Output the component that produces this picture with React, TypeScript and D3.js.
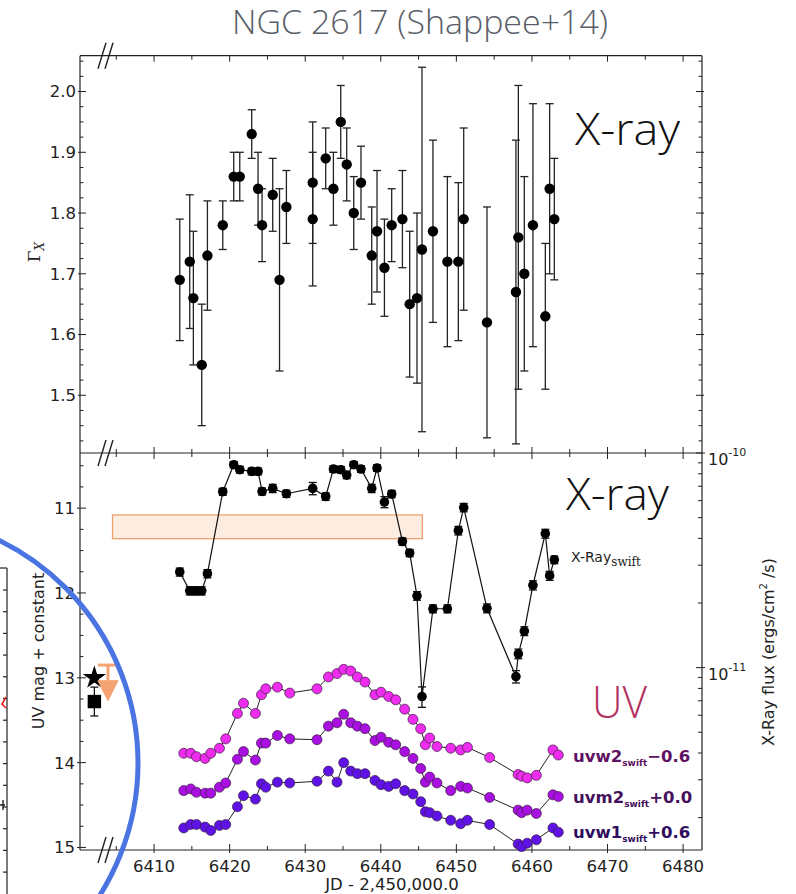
import React from "react";
import * as d3 from "d3";

// ---------- data ----------
// Top panel: X-ray photon index Gamma_X
const gammaJD = [6413.40, 6414.72, 6415.20, 6416.31, 6417.06, 6419.09, 6420.54, 6421.34, 6422.92, 6423.76, 6424.29, 6425.70, 6426.60, 6427.51, 6430.99, 6430.99, 6432.71, 6433.73, 6434.70, 6435.49, 6436.42, 6437.38, 6438.80, 6439.50, 6440.48, 6441.44, 6442.86, 6443.82, 6444.79, 6445.45, 6446.90, 6448.81, 6450.26, 6450.97, 6454.05, 6457.88, 6458.20, 6458.99, 6460.13, 6461.77, 6462.34, 6462.96];
const gamma = [1.69, 1.72, 1.66, 1.55, 1.73, 1.78, 1.86, 1.86, 1.93, 1.84, 1.78, 1.83, 1.69, 1.81, 1.85, 1.79, 1.89, 1.84, 1.95, 1.88, 1.80, 1.85, 1.73, 1.77, 1.71, 1.78, 1.79, 1.65, 1.66, 1.74, 1.77, 1.72, 1.72, 1.79, 1.62, 1.67, 1.76, 1.70, 1.78, 1.63, 1.84, 1.79];
const gammaErr = [0.10, 0.11, 0.11, 0.10, 0.09, 0.04, 0.04, 0.04, 0.04, 0.06, 0.06, 0.06, 0.15, 0.06, 0.10, 0.11, 0.05, 0.06, 0.06, 0.06, 0.06, 0.06, 0.08, 0.10, 0.08, 0.06, 0.08, 0.12, 0.14, 0.30, 0.15, 0.14, 0.13, 0.15, 0.19, 0.25, 0.25, 0.16, 0.20, 0.12, 0.14, 0.10];

// Bottom panel: Swift X-ray flux (units of 1e-11 ergs/cm^2/s)
const xrayJD = [6413.40, 6414.72, 6415.52, 6416.31, 6417.06, 6419.09, 6420.54, 6421.34, 6422.92, 6423.76, 6424.29, 6425.70, 6427.51, 6430.99, 6432.71, 6433.73, 6434.70, 6435.49, 6436.42, 6437.38, 6438.80, 6439.50, 6440.48, 6441.44, 6442.86, 6443.82, 6444.79, 6445.45, 6446.90, 6448.81, 6450.26, 6450.97, 6454.05, 6457.88, 6458.20, 6458.99, 6460.13, 6461.77, 6462.34, 6462.96];
const xrayFlux = [2.79, 2.28, 2.28, 2.28, 2.74, 6.60, 8.82, 8.36, 8.21, 8.21, 6.62, 6.84, 6.46, 6.84, 6.27, 8.42, 8.36, 7.89, 8.82, 8.42, 6.84, 8.51, 5.91, 6.44, 3.87, 3.42, 2.16, 0.733, 1.88, 1.88, 4.35, 5.57, 1.89, 0.908, 1.16, 1.48, 2.42, 4.21, 2.68, 3.18];
const xrayErr = [0.12, 0.10, 0.10, 0.10, 0.12, 0.25, 0.30, 0.30, 0.30, 0.30, 0.25, 0.30, 0.25, 0.45, 0.25, 0.30, 0.30, 0.30, 0.30, 0.30, 0.30, 0.30, 0.35, 0.25, 0.15, 0.13, 0.10, 0.08, 0.08, 0.08, 0.20, 0.25, 0.09, 0.06, 0.06, 0.07, 0.12, 0.20, 0.13, 0.13];

// UV light curves (mag + constant)
const uvJD = [6413.93, 6414.85, 6415.61, 6416.75, 6417.50, 6418.65, 6419.48, 6421.03, 6421.83, 6423.41, 6424.21, 6424.78, 6426.32, 6427.95, 6431.56, 6433.07, 6434.21, 6435.09, 6436.02, 6436.90, 6437.91, 6439.23, 6440.03, 6441.04, 6441.97, 6443.16, 6444.26, 6445.28, 6445.90, 6446.47, 6447.43, 6449.25, 6450.57, 6451.46, 6454.40, 6458.17, 6458.64, 6459.37, 6460.58, 6462.78, 6463.49];
const uvw2 = [13.89, 13.89, 13.93, 13.95, 13.89, 13.83, 13.72, 13.42, 13.30, 13.42, 13.20, 13.13, 13.11, 13.18, 13.13, 12.99, 12.95, 12.90, 12.92, 12.99, 13.05, 13.20, 13.17, 13.22, 13.26, 13.37, 13.49, 13.60, 13.79, 13.71, 13.81, 13.83, 13.85, 13.82, 13.94, 14.14, 14.16, 14.18, 14.15, 13.85, 13.91];
const uvm2 = [14.33, 14.31, 14.35, 14.36, 14.36, 14.29, 14.24, 13.96, 13.87, 13.97, 13.77, 13.77, 13.68, 13.72, 13.73, 13.57, 13.53, 13.43, 13.53, 13.57, 13.60, 13.74, 13.70, 13.76, 13.79, 13.87, 13.95, 14.07, 14.23, 14.17, 14.24, 14.33, 14.28, 14.30, 14.41, 14.56, 14.59, 14.56, 14.60, 14.38, 14.40];
const uvw1 = [14.77, 14.73, 14.73, 14.76, 14.80, 14.74, 14.73, 14.52, 14.39, 14.43, 14.25, 14.29, 14.23, 14.24, 14.22, 14.10, 14.23, 14.00, 14.10, 14.13, 14.13, 14.21, 14.26, 14.28, 14.25, 14.33, 14.37, 14.46, 14.58, 14.59, 14.63, 14.68, 14.72, 14.68, 14.73, 14.96, 14.99, 14.95, 14.91, 14.77, 14.82];
const uvSeries = ["uvw2", "uvm2", "uvw1"];
const uvOffsets = ["\u22120.6", "+0.0", "+0.6"];
const uvColors = ["#ee2cee", "#a80fe0", "#5f12e6"];
const uvLabelColors = ["#5e1262", "#45105c", "#2e0e5c"];

// archival points in the broken-axis segment
const archJD = [6402.1, 6402.1];
const archMag = [13.0, 13.28];
const archErr = [0, 0.17];
const limitJD = 6403.9;
const limitMag = [12.85, 13.27];

// shaded band
const bandJD = [6404.5, 6445.5];
const bandMag = [11.08, 11.36];

// ticks
const xTickValues = d3.range(6405, 6481, 5);
const xTickLabels = [6410, 6420, 6430, 6440, 6450, 6460, 6470, 6480];
const gammaTicks = d3.range(57, 83).map((i) => i * 0.025);
const gammaLabels = [1.5, 1.6, 1.7, 1.8, 1.9, 2.0];
const magTicks = d3.range(42, 61).map((i) => i * 0.25);
const magLabels = [11, 12, 13, 14, 15];
const fluxDecades = [0.1, 1];

const FONT = "DejaVu Sans, Verdana, sans-serif";
const BIG = "'Open Sans', Lato, 'DejaVu Sans', sans-serif";

function BreakMark({ x, y }: { x: number; y: number }) {
  return (
    <g stroke="#222" strokeWidth={1.4}>
      <line x1={x} y1={y + 13} x2={x + 8} y2={y - 13} />
      <line x1={x + 7} y1={y + 13} x2={x + 15} y2={y - 13} />
    </g>
  );
}

export default function App() {
  const L = 80, R = 702, T1 = 55.7, B1 = 453, B2 = 850;
  const x = d3.scaleLinear().domain([6400.2, 6482.5]).range([L, R]);
  const yG = d3.scaleLinear().domain([1.405, 2.059]).range([B1, T1]);
  const yM = d3.scaleLinear().domain([10.35, 15.03]).range([B1, B2]);
  const yF = d3.scaleLog().domain([0.1413, 10]).range([B2, B1]);

  const fluxTicks: { v: number; major: boolean }[] = [];
  fluxDecades.forEach((d) => {
    for (let m = 1; m <= 9; m++) {
      const v = m * d;
      if (v >= 0.1413 && v <= 10.0001) fluxTicks.push({ v, major: m === 1 });
    }
  });
  fluxTicks.push({ v: 10, major: true });

  const uvData = [uvw2, uvm2, uvw1];
  const lineMag = d3.line<number>().x((_, i) => x(uvJD[i])).y((d) => yM(d));
  const lineX = d3.line<number>().x((_, i) => x(xrayJD[i])).y((d) => yF(d));
  const star = d3.symbol(d3.symbolStar, 170)() as string;
  const square = d3.symbol(d3.symbolSquare, 180)() as string;

  const isMajorG = (v: number) => Math.abs(v * 10 - Math.round(v * 10)) < 1e-6;
  const isMajorM = (v: number) => Math.abs(v - Math.round(v)) < 1e-6;

  const ax = "#222";
  const limX = x(limitJD);

  return (
    <svg width={796} height={894} style={{ position: "absolute", left: 0, top: 0, background: "#fff" }}>
      <rect x={0} y={0} width={796} height={894} fill="#fff" />

      {/* title */}
      <text x={420} y={34} textAnchor="middle" fontFamily={BIG} fontWeight={300} fontSize={33} fill="#595e68" textLength={376} lengthAdjust="spacingAndGlyphs">
        NGC 2617 (Shappee+14)
      </text>

      {/* partial neighbour chart at left edge */}
      <g stroke="#222" strokeWidth={1.2} fill="none">
        <line x1={0} y1={568} x2={7} y2={568} />
        <line x1={7} y1={568} x2={7} y2={894} />
        {d3.range(0, 14).map((i) => (
          <line key={i} x1={3} x2={7} y1={590 + i * 21.7} y2={590 + i * 21.7} />
        ))}
        <path d="M6,697 L2,704 L6,708" stroke="#e0201c" strokeWidth={1.6} />
        <path d="M0,805 L5,805 M3,800 L3,810" strokeWidth={1.4} />
      </g>

      {/* ---------- top panel ---------- */}
      <g>
        <line x1={L} x2={R} y1={T1} y2={T1} stroke={ax} strokeWidth={1.2} />
        <line x1={L} x2={L} y1={T1} y2={B1} stroke={ax} strokeWidth={1.2} />
        <line x1={R} x2={R} y1={T1} y2={B1} stroke={ax} strokeWidth={1.2} />
        {xTickValues.map((v) => (
          <line key={"tt" + v} x1={x(v)} x2={x(v)} y1={T1} y2={T1 + (v % 10 === 0 ? 6 : 4)} stroke={ax} strokeWidth={1} />
        ))}
        {xTickValues.map((v) => (
          <line key={"tb" + v} x1={x(v)} x2={x(v)} y1={B1} y2={B1 - (v % 10 === 0 ? 6 : 4)} stroke={ax} strokeWidth={1} />
        ))}
        {gammaTicks.filter((v) => yG(v) > T1 && yG(v) < B1).map((v) => {
          const maj = isMajorG(v);
          return (
            <g key={"g" + v} stroke={ax} strokeWidth={1}>
              <line x1={maj ? L - 2 : L} x2={L + (maj ? 6 : 3.5)} y1={yG(v)} y2={yG(v)} />
              <line x1={R + (maj ? 2 : 0)} x2={R - (maj ? 6 : 3.5)} y1={yG(v)} y2={yG(v)} />
            </g>
          );
        })}
        {gammaLabels.map((v) => (
          <text key={"gl" + v} x={76} y={yG(v)} dy="0.36em" textAnchor="end" fontFamily={FONT} fontSize={16.5} fill="#222">
            {v.toFixed(1)}
          </text>
        ))}
        <text transform={`translate(40,252) rotate(-90)`} textAnchor="middle" fontFamily="DejaVu Serif, serif" fontSize={17} fill="#222">
          Γ<tspan fontSize={12} fontStyle="italic" dy={4}>X</tspan>
        </text>

        {/* error bars */}
        <g stroke="#222" strokeWidth={1.3}>
          {gamma.map((g, i) => {
            const cx = x(gammaJD[i]);
            const y0 = yG(g - gammaErr[i]);
            const y1 = yG(g + gammaErr[i]);
            return (
              <g key={"ge" + i}>
                <line x1={cx} x2={cx} y1={y0} y2={y1} />
                <line x1={cx - 4} x2={cx + 4} y1={y0} y2={y0} />
                <line x1={cx - 4} x2={cx + 4} y1={y1} y2={y1} />
              </g>
            );
          })}
        </g>
        {gamma.map((g, i) => (
          <circle key={"gp" + i} cx={x(gammaJD[i])} cy={yG(g)} r={5.2} fill="#000" />
        ))}
        <text x={575} y={145} fontFamily={BIG} fontWeight={300} fontSize={44} fill="#111" textLength={105} lengthAdjust="spacingAndGlyphs">X-ray</text>
      </g>

      {/* ---------- bottom panel ---------- */}
      <g>
        <line x1={L} x2={R} y1={B1} y2={B1} stroke={ax} strokeWidth={1.2} />
        <line x1={L} x2={R} y1={B2} y2={B2} stroke={ax} strokeWidth={1.2} />
        <line x1={L} x2={L} y1={B1} y2={B2} stroke={ax} strokeWidth={1.2} />
        <line x1={R} x2={R} y1={B1} y2={B2} stroke={ax} strokeWidth={1.2} />
        {xTickValues.map((v) => (
          <line key={"bt" + v} x1={x(v)} x2={x(v)} y1={B1} y2={B1 + (v % 10 === 0 ? 6 : 4)} stroke={ax} strokeWidth={1} />
        ))}
        {xTickValues.map((v) => (
          <line key={"bb" + v} x1={x(v)} x2={x(v)} y1={B2 + (v % 10 === 0 ? 3 : 0)} y2={B2 - (v % 10 === 0 ? 6 : 4)} stroke={ax} strokeWidth={1} />
        ))}
        {xTickLabels.map((v) => (
          <text key={"xl" + v} x={x(v)} y={872} textAnchor="middle" fontFamily={FONT} fontSize={16.5} fill="#222">{v}</text>
        ))}
        <text x={392} y={890} textAnchor="middle" fontFamily={FONT} fontSize={16.5} fill="#222">JD - 2,450,000.0</text>

        {magTicks.filter((v) => yM(v) > B1 + 1 && yM(v) <= B2).map((v) => {
          const maj = isMajorM(v);
          return <line key={"m" + v} x1={maj ? L - 3 : L} x2={L + (maj ? 6 : 3.5)} y1={yM(v)} y2={yM(v)} stroke={ax} strokeWidth={1} />;
        })}
        {magLabels.map((v) => (
          <text key={"ml" + v} x={75} y={yM(v)} dy="0.36em" textAnchor="end" fontFamily={FONT} fontSize={16.5} fill="#222">{v}</text>
        ))}
        <text transform={`translate(44,651) rotate(-90)`} textAnchor="middle" fontFamily={FONT} fontSize={16} fill="#222">UV mag + constant</text>

        {fluxTicks.map((t, i) => (
          <line key={"f" + i} x1={R + (t.major ? 3 : 0)} x2={R - (t.major ? 6 : 4)} y1={yF(t.v)} y2={yF(t.v)} stroke={ax} strokeWidth={1} />
        ))}
        {[10, 1].map((v, i) => (
          <text key={"fl" + v} x={708} y={yF(v) + 12} fontFamily={FONT} fontSize={16} fill="#222">
            10<tspan fontSize={11} dy={-9}>{i === 0 ? "-10" : "-11"}</tspan>
          </text>
        ))}
        <text transform={`translate(774,652) rotate(-90)`} textAnchor="middle" fontFamily={FONT} fontSize={16} fill="#222">
          X-Ray flux (ergs/cm<tspan fontSize={10} dy={-7}>2</tspan><tspan dy={7}> /s)</tspan>
        </text>

        {/* shaded band */}
        <rect x={x(bandJD[0])} y={yM(bandMag[0])} width={x(bandJD[1]) - x(bandJD[0])} height={yM(bandMag[1]) - yM(bandMag[0])}
          fill="#fdece0" stroke="#f0a070" strokeWidth={1.3} />

        {/* X-ray flux */}
        <path d={lineX(xrayFlux) as string} fill="none" stroke="#111" strokeWidth={1.2} />
        <g stroke="#111" strokeWidth={1.3}>
          {xrayFlux.map((f, i) => {
            const cx = x(xrayJD[i]);
            const y0 = yF(f - xrayErr[i]);
            const y1 = yF(f + xrayErr[i]);
            return (
              <g key={"xe" + i}>
                <line x1={cx} x2={cx} y1={y0} y2={y1} />
                <line x1={cx - 4} x2={cx + 4} y1={y0} y2={y0} />
                <line x1={cx - 4} x2={cx + 4} y1={y1} y2={y1} />
              </g>
            );
          })}
        </g>
        {xrayFlux.map((f, i) => (
          <circle key={"xp" + i} cx={x(xrayJD[i])} cy={yF(f)} r={4.8} fill="#000" />
        ))}
        <text x={571} y={561.5} fontFamily={FONT} fontSize={14} fill="#222">
          X-Ray<tspan fontFamily="DejaVu Serif, serif" fontSize={12} dy={4}>swift</tspan>
        </text>
        <text x={566} y={510} fontFamily={BIG} fontWeight={300} fontSize={44} fill="#111" textLength={103} lengthAdjust="spacingAndGlyphs">X-ray</text>

        {/* UV */}
        {uvData.map((arr, s) => (
          <g key={"uv" + s}>
            <path d={lineMag(arr) as string} fill="none" stroke="#222" strokeWidth={1} />
            {arr.map((m, i) => (
              <circle key={i} cx={x(uvJD[i])} cy={yM(m)} r={5} fill={uvColors[s]} stroke="#3a2040" strokeWidth={0.7} />
            ))}
          </g>
        ))}
        <text x={592} y={718} fontFamily={BIG} fontWeight={300} fontSize={44} fill="#b3315f" textLength={55} lengthAdjust="spacingAndGlyphs">UV</text>
        {uvSeries.map((name, s) => (
          <text key={"ul" + s} x={573} y={[761.7, 802.7, 838.3][s]} fontFamily={FONT} fontWeight="bold" fontSize={16.5} fill={uvLabelColors[s]}>
            {name}<tspan fontSize={9} dy={4}>swift</tspan><tspan fontSize={16.5} dy={-4}>{uvOffsets[s]}</tspan>
          </text>
        ))}

        {/* archival points */}
        <path d={star} transform={`translate(${x(archJD[0])},${yM(archMag[0])})`} fill="#000" />
        <g stroke="#111" strokeWidth={1.3}>
          <line x1={x(archJD[1])} x2={x(archJD[1])} y1={yM(archMag[1] - archErr[1])} y2={yM(archMag[1] + archErr[1])} />
          <line x1={x(archJD[1]) - 4} x2={x(archJD[1]) + 4} y1={yM(archMag[1] - archErr[1])} y2={yM(archMag[1] - archErr[1])} />
          <line x1={x(archJD[1]) - 4} x2={x(archJD[1]) + 4} y1={yM(archMag[1] + archErr[1])} y2={yM(archMag[1] + archErr[1])} />
        </g>
        <path d={square} transform={`translate(${x(archJD[1])},${yM(archMag[1])})`} fill="#000" />
        <g stroke="#f5a373" strokeWidth={3} fill="#f5a373">
          <line x1={limX - 10} x2={limX + 10} y1={yM(limitMag[0])} y2={yM(limitMag[0])} />
          <line x1={limX} x2={limX} y1={yM(limitMag[0])} y2={yM(limitMag[1]) - 18} />
          <path d={`M${limX - 10},${yM(limitMag[1]) - 20} L${limX + 10},${yM(limitMag[1]) - 20} L${limX},${yM(limitMag[1])} Z`} strokeWidth={1} />
        </g>
      </g>

      {/* axis break marks */}
      <BreakMark x={98} y={T1} />
      <BreakMark x={98} y={B1} />
      <BreakMark x={98} y={B2} />

      {/* blue annotation circle */}
      <circle cx={-110} cy={763} r={248} fill="none" stroke="#4a74e2" strokeWidth={5} />
    </svg>
  );
}
